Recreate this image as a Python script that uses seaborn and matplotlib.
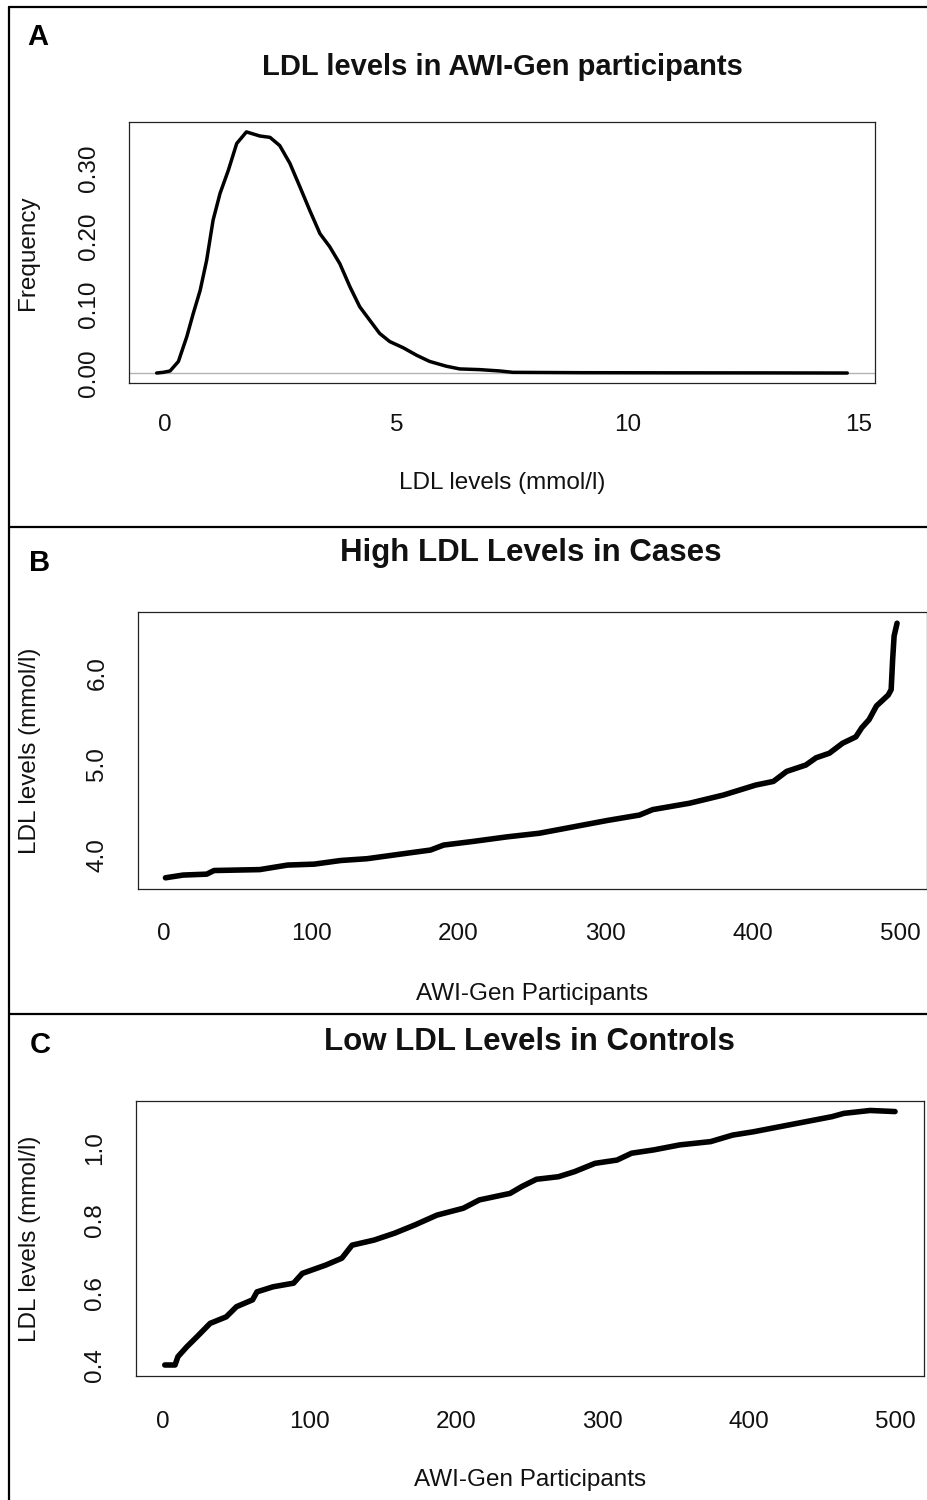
import matplotlib
matplotlib.use("Agg")
import matplotlib.pyplot as plt
import numpy as np
import pandas as pd
import seaborn as sns

# Panel A: density of LDL levels
ldl_x = [-0.18, -0.04, 0.11, 0.29, 0.47, 0.61, 0.76, 0.90, 1.04, 1.19, 1.37, 1.55,
         1.76, 2.05, 2.27, 2.48, 2.70, 2.92, 3.13, 3.35, 3.56, 3.78, 4.00, 4.21,
         4.43, 4.64, 4.86, 5.15, 5.44, 5.72, 6.08, 6.37, 6.80, 7.24, 7.52, 9.0,
         11.0, 13.0, 14.75]
ldl_density = [0.000, 0.001, 0.003, 0.017, 0.053, 0.087, 0.121, 0.165, 0.224, 0.263,
               0.297, 0.336, 0.353, 0.347, 0.345, 0.333, 0.307, 0.272, 0.238, 0.204,
               0.185, 0.160, 0.126, 0.097, 0.077, 0.058, 0.046, 0.037, 0.026, 0.017,
               0.010, 0.006, 0.005, 0.003, 0.001, 0.0005, 0.0003, 0.0002, 0.0]

# Panel B: sorted high LDL values in cases
cases_idx = [1, 13, 29, 34, 65, 84, 102, 120, 138, 165, 181, 190, 210, 233, 255, 278,
             301, 323, 332, 357, 380, 402, 414, 423, 436, 443, 452, 461, 470, 474, 479,
             484, 492, 494, 495, 496, 498]
cases_ldl = [3.75, 3.78, 3.79, 3.83, 3.84, 3.89, 3.90, 3.94, 3.96, 4.02, 4.055, 4.11,
             4.15, 4.20, 4.24, 4.31, 4.38, 4.44, 4.50, 4.57, 4.66, 4.77, 4.81, 4.92,
             4.99, 5.07, 5.12, 5.23, 5.30, 5.40, 5.49, 5.64, 5.76, 5.82, 6.15, 6.41, 6.55]

# Panel C: sorted low LDL values in controls
ctrl_idx = [1, 8, 10, 16, 23, 32, 43, 50, 61, 64, 75, 89, 95, 111, 122, 129, 144, 158,
            172, 187, 205, 216, 237, 245, 255, 270, 281, 295, 310, 320, 335, 353, 374,
            389, 403, 421, 439, 457, 465, 483, 500]
ctrl_ldl = [0.400, 0.400, 0.423, 0.450, 0.478, 0.515, 0.533, 0.561, 0.580, 0.602,
            0.616, 0.626, 0.653, 0.676, 0.695, 0.731, 0.745, 0.764, 0.787, 0.814,
            0.833, 0.856, 0.874, 0.893, 0.913, 0.920, 0.934, 0.957, 0.966, 0.985,
            0.994, 1.008, 1.017, 1.035, 1.044, 1.058, 1.072, 1.086, 1.095, 1.103, 1.100]

a_xticks = [0, 5, 10, 15]
a_yticks = [0.00, 0.05, 0.10, 0.15, 0.20, 0.25, 0.30, 0.35]
a_ylabels = ["0.00", "", "0.10", "", "0.20", "", "0.30", ""]
bc_xticks = [0, 100, 200, 300, 400, 500]
b_yticks = [4.0, 4.5, 5.0, 5.5, 6.0, 6.5]
b_ylabels = ["4.0", "", "5.0", "", "6.0", ""]
c_yticks = [0.4, 0.5, 0.6, 0.7, 0.8, 0.9, 1.0, 1.1]
c_ylabels = ["0.4", "", "0.6", "", "0.8", "", "1.0", ""]

sns.set_theme(style="white")
plt.rcParams["font.family"] = ["Liberation Sans", "DejaVu Sans"]
plt.rcParams["axes.edgecolor"] = "#222222"
plt.rcParams["axes.linewidth"] = 0.9

W, H = 927, 1500
fig = plt.figure(figsize=(W / 100, H / 100), dpi=100)


def px_axes(left, top, right, bottom):
    return fig.add_axes([left / W, 1 - bottom / H, (right - left) / W, (bottom - top) / H])


def style_axes(ax, xticks, xlabels, yticks, ylabels, xpad=13):
    ax.set_xticks(xticks, xlabels)
    ax.set_yticks(yticks, ylabels)
    ax.tick_params(axis="both", direction="out", length=10, width=0.9, color="#222222",
                   labelsize=17.5, labelcolor="#111111")
    ax.tick_params(axis="x", pad=xpad)
    ax.tick_params(axis="y", pad=11)
    for lab in ax.get_yticklabels():
        lab.set_rotation(90)
        lab.set_va("center")
        lab.set_ha("right")
    for sp in ax.spines.values():
        sp.set_visible(True)


def add_label(ax, xlabel, ylabel, xl_y, yl_x):
    ax.set_xlabel(xlabel, fontsize=17.5, color="#111111")
    ax.set_ylabel(ylabel, fontsize=17.5, color="#111111")
    ax.xaxis.set_label_coords(0.5, xl_y)
    ax.yaxis.set_label_coords(yl_x, 0.5)
    ax.xaxis.label.set_va("center")
    ax.yaxis.label.set_va("center")


# ---- A
axA = px_axes(129.3, 122, 875, 383)
axA.axhline(0, color="#b3b3b3", lw=1.0, zorder=1)
sns.lineplot(x=ldl_x, y=ldl_density, sort=False, estimator=None, color="black",
             linewidth=2.5, ax=axA)
axA.set_xlim(-0.772, 15.35)
axA.set_ylim(-0.0146, 0.3675)
style_axes(axA, a_xticks, [str(t) for t in a_xticks], a_yticks, a_ylabels, xpad=12)
add_label(axA, "LDL levels (mmol/l)", "Frequency", (383 - 483) / 261, (28 - 129.3) / 745.7)

# ---- B
axB = px_axes(137.5, 612.3, 926.5, 888.7)
sns.lineplot(x=cases_idx, y=cases_ldl, sort=False, estimator=None, color="black",
             linewidth=4.0, ax=axB)
axB.set_xlim(-18, 518)
axB.set_ylim(3.63, 6.67)
style_axes(axB, bc_xticks, [str(t) for t in bc_xticks], b_yticks, b_ylabels, xpad=15)
add_label(axB, "AWI-Gen Participants", "LDL levels (mmol/l)",
          (888.7 - 994) / 276.4, (30 - 137.5) / 789)

# ---- C
axC = px_axes(135.5, 1100.7, 924.3, 1376)
sns.lineplot(x=ctrl_idx, y=ctrl_ldl, sort=False, estimator=None, color="black",
             linewidth=4.0, ax=axC)
axC.set_xlim(-19, 520)
axC.set_ylim(0.3696, 1.130)
style_axes(axC, bc_xticks, [str(t) for t in bc_xticks], c_yticks, c_ylabels, xpad=15)
add_label(axC, "AWI-Gen Participants", "LDL levels (mmol/l)",
          (1376 - 1480) / 275.3, (30 - 135.5) / 788.8)

# titles and panel letters
for txt, x, y, fs in [("LDL levels in AWI-Gen participants", 502, 67, 21),
                      ("High LDL Levels in Cases", 531, 553, 22.5),
                      ("Low LDL Levels in Controls", 529, 1042, 22.5)]:
    fig.text(x / W, 1 - y / H, txt, ha="center", va="center", fontsize=fs,
             fontweight="bold", color="#111111")
for txt, x, y in [("A", 38, 37), ("B", 40, 563), ("C", 40, 1045)]:
    fig.text(x / W, 1 - y / H, txt, ha="center", va="center", fontsize=21,
             fontweight="bold", color="black")

# panel frames
lw = 1.6
fig.add_artist(plt.Line2D([8.5 / W, 8.5 / W], [0, 1 - 7 / H], color="black", lw=lw))
fig.add_artist(plt.Line2D([8.5 / W, 1], [1 - 7 / H, 1 - 7 / H], color="black", lw=lw))
for yy in [527, 1014]:
    fig.add_artist(plt.Line2D([8.5 / W, 1], [1 - yy / H, 1 - yy / H], color="black", lw=lw))

fig.savefig("out.png", dpi=100)
